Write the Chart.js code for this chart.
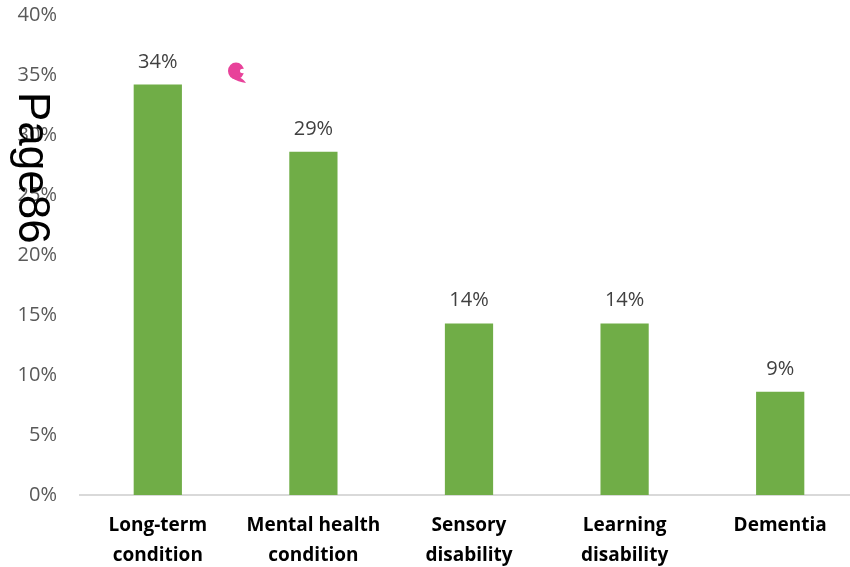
<!DOCTYPE html>
<html>
<head>
<meta charset="utf-8">
<script src="https://cdn.jsdelivr.net/npm/chart.js@4.4.1/dist/chart.umd.min.js"></script>
<style>
  html, body { margin: 0; padding: 0; background: #fff; overflow: hidden; }
  #wrap { position: relative; width: 858px; height: 567px; }
</style>
</head>
<body>
<div id="wrap"><canvas id="chart"></canvas></div>
<script>
// categories, shares (%) and y tick steps
var categories = [
    ['Long-term', 'condition'],
    ['Mental health', 'condition'],
    ['Sensory', 'disability'],
    ['Learning', 'disability'],
    ['Dementia']
];
var shares = [34.2, 28.6, 14.3, 14.3, 8.6];
var yMin = 0, yMax = 40, yStep = 5;
var pageLabel = 'Page86';

// value labels above each bar
var barLabels = {
    id: 'barLabels',
    afterDatasetsDraw: function(chart) {
        var ctx = chart.ctx;
        var meta = chart.getDatasetMeta(0);
        ctx.save();
        ctx.font = '20px "Open Sans"';
        ctx.fillStyle = '#404040';
        ctx.textAlign = 'center';
        ctx.textBaseline = 'alphabetic';
        meta.data.forEach(function(bar, i) {
            ctx.fillText(Math.round(shares[i]) + '%', bar.x, bar.y - 17);
        });
        ctx.restore();
    }
};

// page stamp and pink mark sitting over the chart
var overlay = {
    id: 'overlay',
    afterDraw: function(chart) {
        var ctx = chart.ctx;
        ctx.save();
        ctx.translate(19, 92);
        ctx.rotate(Math.PI / 2);
        ctx.font = '44px "Liberation Sans"';
        ctx.fillStyle = '#000';
        ctx.textBaseline = 'alphabetic';
        ctx.fillText(pageLabel, 0, 0);
        ctx.restore();

        ctx.save();
        ctx.fillStyle = '#e8429a';
        ctx.beginPath();
        ctx.ellipse(236, 71, 8, 8.5, 0, 0, Math.PI * 2);
        ctx.fill();
        ctx.beginPath();
        ctx.moveTo(236, 76);
        ctx.quadraticCurveTo(243, 78, 246, 83);
        ctx.quadraticCurveTo(238, 82, 232, 78);
        ctx.fill();
        ctx.fillStyle = '#fff';
        ctx.beginPath();
        ctx.ellipse(243, 71, 3, 2.2, 0, 0, Math.PI * 2);
        ctx.fill();
        ctx.restore();
    }
};

new Chart(document.getElementById('chart'), {
    type: 'bar',
    data: {
        labels: categories,
        datasets: [{
            data: shares,
            backgroundColor: '#70ad47',
            borderWidth: 0,
            barPercentage: 0.31,
            categoryPercentage: 1
        }]
    },
    options: {
        responsive: true,
        maintainAspectRatio: false,
        animation: false,
        layout: { padding: { top: 15, right: 0, bottom: 0, left: 0 } },
        plugins: {
            legend: { display: false },
            tooltip: { enabled: false }
        },
        scales: {
            x: {
                grid: { display: false, drawTicks: false },
                border: { display: true, color: '#d9d9d9', width: 2 },
                ticks: {
                    padding: 16,
                    color: '#000',
                    font: { family: 'Open Sans', size: 19, weight: 'bold', lineHeight: 1.55 },
                    maxRotation: 0,
                    autoSkip: false
                },
                afterFit: function(scale) {
                    scale.height = 72;
                    scale.paddingLeft = 0;
                    scale.paddingRight = 0;
                }
            },
            y: {
                min: yMin,
                max: yMax,
                grid: { display: false, drawTicks: false },
                border: { display: false },
                ticks: {
                    stepSize: yStep,
                    padding: 23,
                    color: '#595959',
                    font: { family: 'Open Sans', size: 20 },
                    callback: function(v) { return v + '%'; }
                },
                afterFit: function(scale) {
                    scale.width = 80;
                    scale.paddingTop = 0;
                    scale.paddingBottom = 0;
                }
            }
        }
    },
    plugins: [barLabels, overlay]
});
</script>
</body>
</html>
